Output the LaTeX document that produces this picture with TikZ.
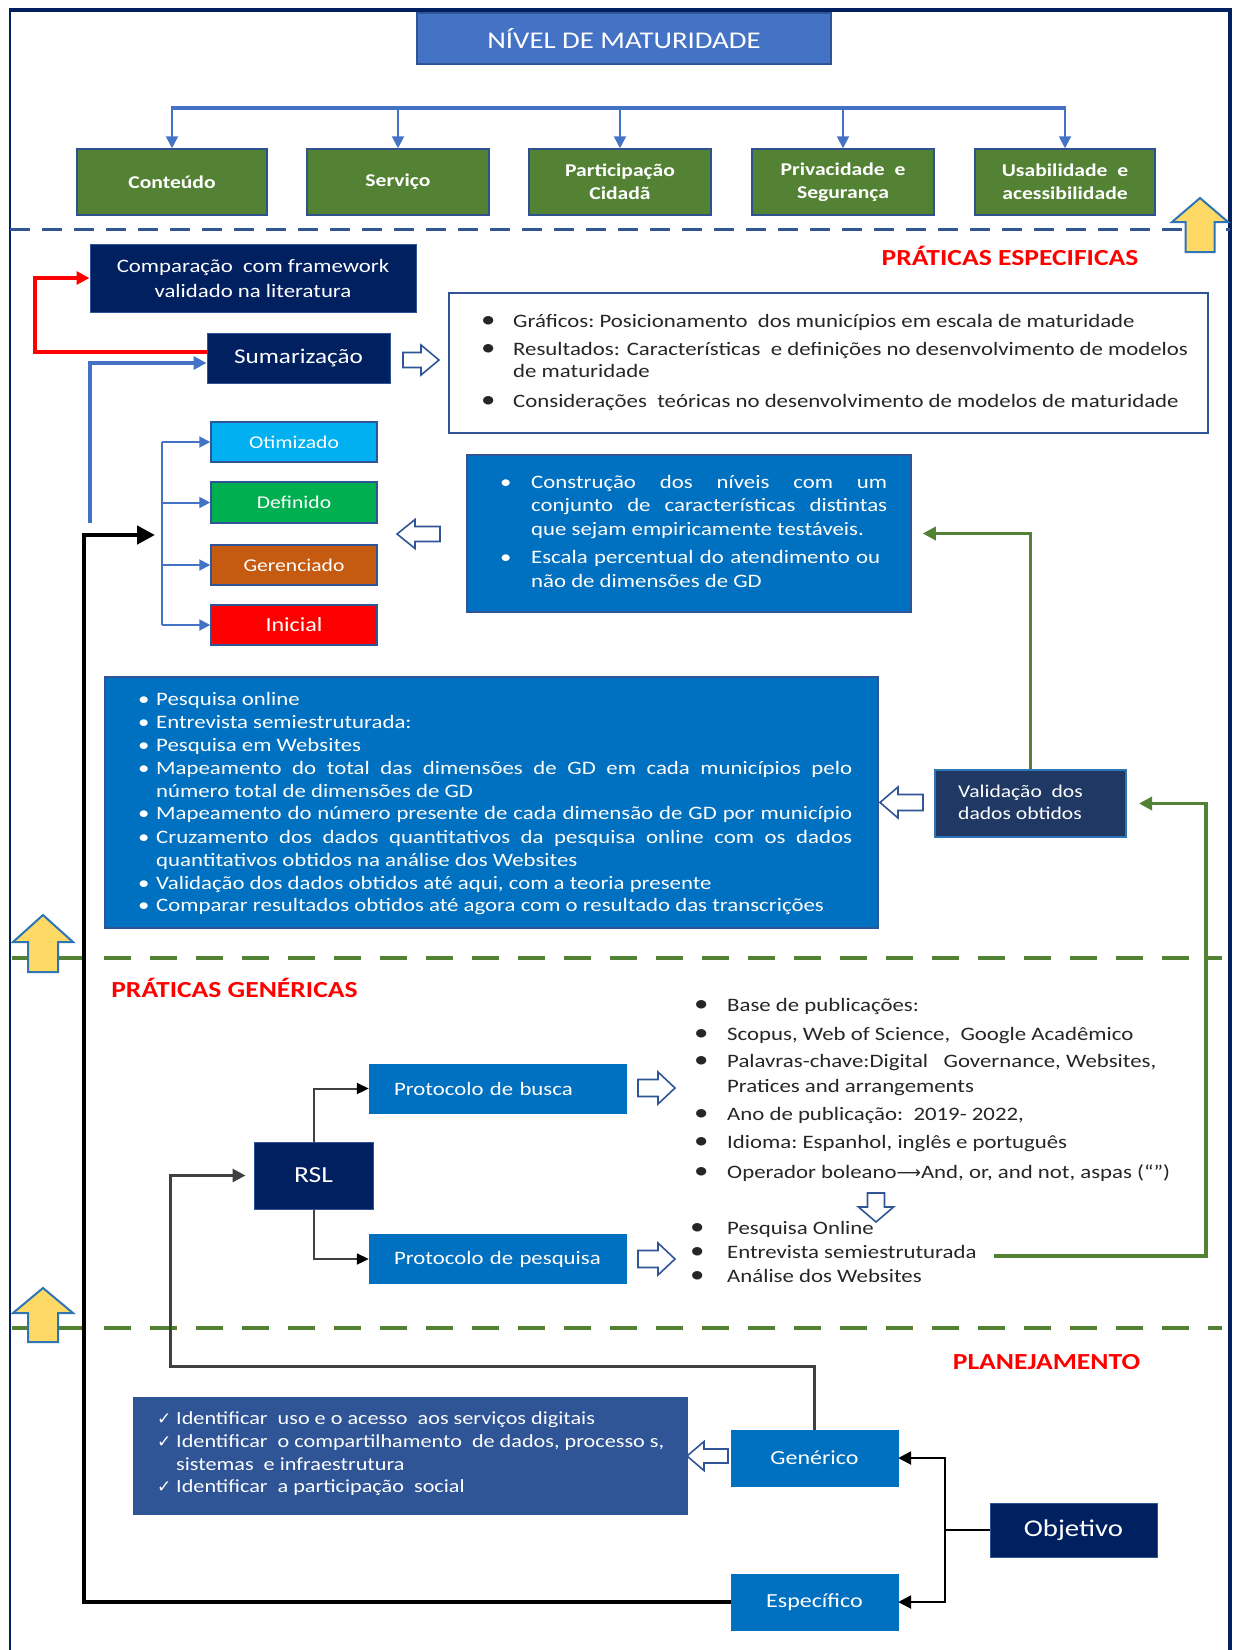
\documentclass[tikz,border=0pt]{standalone}
\usepackage{fontspec}
\setmainfont{Carlito}[FakeStretch=1.2]
\newfontfamily\djv{DejaVu Sans}
\usetikzlibrary{arrows.meta,calc}
\definecolor{navy}{HTML}{002060}
\definecolor{titlefill}{HTML}{4472C4}
\definecolor{edgeblue}{HTML}{2F5597}
\definecolor{grfill}{HTML}{548235}
\definecolor{grborder}{HTML}{2F528F}
\definecolor{medblue}{HTML}{0070C0}
\definecolor{valfill}{HTML}{1F3864}
\definecolor{valdraw}{HTML}{2E75B6}
\definecolor{chkfill}{HTML}{2F5597}
\definecolor{lineblue}{HTML}{4472C4}
\definecolor{lgreen}{HTML}{548235}
\definecolor{yel}{HTML}{FFD966}
\definecolor{txtgray}{HTML}{262626}
\definecolor{optc}{HTML}{00B0F0}
\definecolor{defc}{HTML}{00B050}
\definecolor{gerc}{HTML}{C55A11}
\definecolor{inic}{HTML}{FF0000}
\definecolor{hred}{HTML}{FF0000}
\definecolor{conngray}{HTML}{404040}
\newcommand{\fsz}[2]{\fontsize{#1}{#2}\selectfont}
\newcommand{\bul}[2]{\makebox[#1][l]{\textbullet}#2}
\newcommand{\bigbul}[2]{\makebox[#1][l]{\fsz{24}{24}\textbullet}#2}
\newcommand{\chk}[1]{\makebox[19pt][l]{\djv\fsz{17}{17}✓}#1}
\newcommand{\blockarrow}[8]{%
  \begin{scope}[shift={(#1,#2)},rotate=#3]
    \draw[#8] ({-#4/2},{-#6/2}) -- ({#4/2-#7},{-#6/2}) -- ({#4/2-#7},{-#5/2})
      -- ({#4/2},0) -- ({#4/2-#7},{#5/2}) -- ({#4/2-#7},{#6/2}) -- ({-#4/2},{#6/2}) -- cycle;
  \end{scope}}
\tikzset{
  every node/.style={inner sep=0pt},
  titlebox/.style={fill=titlefill, draw=edgeblue, line width=1.5pt, text=white, font=\fsz{24}{28}},
  greenbox/.style={fill=grfill, draw=grborder, line width=1.5pt, text=white, align=center,
    minimum height=66pt, font=\fsz{18}{23}\bfseries},
  navybox/.style={fill=navy, draw=edgeblue, line width=1pt, text=white, align=center},
  lvl/.style={draw=edgeblue, line width=1.5pt, text=white, minimum width=166pt, font=\fsz{18}{22}},
  medbox/.style={fill=medblue, draw=edgeblue, line width=1.5pt},
  protbox/.style={fill=medblue, draw=medblue, minimum width=257pt, minimum height=49pt,
    text width=207pt, inner xsep=25pt, align=left, text=white, font=\fsz{19}{23}},
  lowbox/.style={fill=medblue, draw=medblue, minimum width=167pt, minimum height=56pt,
    text=white, font=\fsz{20}{24}},
  heading/.style={text=hred, font=\fsz{23}{27}\bfseries},
  tl/.style={inner sep=0pt, anchor=west, text height=13pt, text depth=4pt, font=\fsz{19}{23}},
  hollow/.style={fill=white, draw=edgeblue, line width=1.6pt},
  yarrow/.style={fill=yel, draw=valdraw, line width=2pt},
  tip/.style={-{Triangle[length=#1,width=#1]}},
}
\begin{document}
\begin{tikzpicture}[x=1pt,y=-1pt]
\useasboundingbox (0,0) rectangle (1235,1650);
\fill[white] (0,0) rectangle (1235,1650);

% frame
\draw[navy, line width=2.5pt] (10,1650) -- (10,10);
\draw[navy, line width=3.5pt] (9,10) -- (1230,10);
\draw[navy, line width=4.5pt] (1230,8) -- (1230,1650);

% separators
\draw[edgeblue, line width=3pt, dash pattern=on 20pt off 12pt] (10,229) -- (1230,229);
\draw[lgreen, line width=4pt, dash pattern=on 27pt off 19pt] (12,958) -- (1222,958);
\draw[lgreen, line width=4pt, dash pattern=on 27pt off 19pt] (12,1328) -- (1222,1328);

% ---------------- top
\node[titlebox, minimum width=414pt, minimum height=51pt] (title) at (624,38.5) {NÍVEL DE MATURIDADE};
\node[greenbox, minimum width=190pt] (cont) at (172,182) {Conteúdo};
\node[greenbox, minimum width=182pt] (serv) at (398,182) {Serviço};
\node[greenbox, minimum width=182pt] (part) at (620,182) {Participação\\Cidadã};
\node[greenbox, minimum width=182pt] (priv) at (843,182) {Privacidade\ \ e\\Segurança};
\node[greenbox, minimum width=180pt] (usab) at (1065,182) {Usabilidade\ \ e\\acessibilidade};
\coordinate (bar) at (0,108);
\draw[lineblue, line width=3.5pt] ([xshift=-1pt]cont.north |- bar) -- ([xshift=1pt]usab.north |- bar);
\foreach \n in {cont,serv,part,priv,usab}
  \draw[lineblue, line width=2pt, tip=12pt] (\n.north |- bar) -- (\n.north);

% ---------------- práticas específicas
\node[heading] (hesp) at (1010,256) {PRÁTICAS ESPECIFICAS};
\node[navybox, minimum width=326pt, minimum height=68pt, font=\fsz{19}{25}] (comp) at (253,278)
  {Comparação\ \ com framework\\validado na literatura};
\node[navybox, minimum width=183pt, minimum height=50pt, font=\fsz{21}{25}] (sum) at (298.5,358) {Sumarização};

\node[draw=edgeblue, line width=1.5pt, fill=white, minimum width=759pt, minimum height=140pt] (wbox) at (828.5,363) {};
\node[tl, text=txtgray] (w1) at (481,323) {\bigbul{32pt}{Gráficos:\ Posicionamento\ \ dos municípios\ em escala\ de maturidade}};
\node[tl, text=txtgray] (w2) at (481,351) {\bigbul{32pt}{Resultados: Características\ \ e definições\ no desenvolvimento\ de modelos}};
\node[tl, text=txtgray] (w3) at (513,373) {de maturidade};
\node[tl, text=txtgray] (w4) at (481,403) {\bigbul{32pt}{Considerações\ \ teóricas\ no desenvolvimento\ de modelos de maturidade}};

\node[lvl, fill=optc, minimum height=40pt] (opt) at (294,442) {Otimizado};
\node[lvl, fill=defc, minimum height=41pt] (def) at (294,502.5) {Definido};
\node[lvl, fill=gerc, minimum height=40pt] (ger) at (294,565) {Gerenciado};
\node[lvl, fill=inic, minimum height=40pt, font=\fsz{20}{24}] (ini) at (294,625) {Inicial};

\node[medbox, minimum width=444pt, minimum height=157pt] (constr) at (689,533.5) {};
\node[tl, text=white] (c1) at (500,484) {\bul{31pt}{\makebox[356pt][s]{Construção dos níveis com um}}};
\node[tl, text=white] (c2) at (531,507) {\makebox[356pt][s]{conjunto de características distintas}};
\node[tl, text=white] (c3) at (531,531) {que sejam empiricamente testáveis.};
\node[tl, text=white] (c4) at (500,559) {\bul{31pt}{\makebox[349pt][s]{Escala percentual do atendimento ou}}};
\node[tl, text=white] (c5) at (531,583) {não de dimensões\ de GD};

\node[medbox, minimum width=773pt, minimum height=251pt] (bigbox) at (491.5,802.5) {};
\node[tl, text=white] (b1) at (138,701) {\bul{18pt}{Pesquisa\ online}};
\node[tl, text=white] (b2) at (138,724) {\bul{18pt}{Entrevista\ semiestruturada:}};
\node[tl, text=white] (b3) at (138,747) {\bul{18pt}{Pesquisa\ em Websites}};
\node[tl, text=white] (b4) at (138,770) {\bul{18pt}{\makebox[696pt][s]{Mapeamento do total das dimensões de GD em cada municípios pelo}}};
\node[tl, text=white] (b5) at (156,793) {número total de dimensões de GD};
\node[tl, text=white] (b6) at (138,815) {\bul{18pt}{\makebox[696pt][s]{Mapeamento do número presente de cada dimensão de GD por município}}};
\node[tl, text=white] (b7) at (138,839) {\bul{18pt}{\makebox[696pt][s]{Cruzamento dos dados quantitativos da pesquisa online com os dados}}};
\node[tl, text=white] (b8) at (156,862) {quantitativos obtidos na análise dos Websites};
\node[tl, text=white] (b9) at (138,885) {\bul{18pt}{Validação\ dos dados obtidos até aqui, com a teoria presente}};
\node[tl, text=white] (b10) at (138,907) {\bul{18pt}{Comparar\ resultados\ obtidos até agora com o resultado\ das transcrições}};

\node[fill=valfill, draw=valdraw, line width=2pt, minimum width=191pt, minimum height=67pt] (val) at (1030.5,803.5) {};
\node[tl, text=white, font=\fsz{18}{22}] (v1) at (958,793) {Validação\ \ dos};
\node[tl, text=white, font=\fsz{18}{22}] (v2) at (958,815) {dados obtidos};

% ---------------- práticas genéricas
\node[heading] (hgen) at (234.5,988) {PRÁTICAS GENÉRICAS};
\node[protbox] (busca) at (497.5,1088.5) {Protocolo de busca};
\node[protbox] (pesq) at (497.5,1259) {Protocolo de pesquisa};
\node[navybox, minimum width=119pt, minimum height=67pt, font=\fsz{23}{27}] (rsl) at (313.5,1175.5) {RSL};

\node[tl, text=txtgray] (r1) at (694,1007) {\bigbul{33pt}{Base de publicações:}};
\node[tl, text=txtgray] (r2) at (694,1036) {\bigbul{33pt}{Scopus, Web of Science,\ \ Google\ Acadêmico}};
\node[tl, text=txtgray] (r3) at (694,1063) {\bigbul{33pt}{Palavras-chave:Digital\ \ \ Governance, Websites,}};
\node[tl, text=txtgray] (r4) at (727,1088) {Pratices\ and\ arrangements};
\node[tl, text=txtgray] (r5) at (694,1116) {\bigbul{33pt}{Ano de publicação:\ \ 2019- 2022,}};
\node[tl, text=txtgray] (r6) at (694,1144) {\bigbul{33pt}{Idioma:\ Espanhol,\ inglês e português}};
\node[tl, text=txtgray] (r7) at (694,1174) {\bigbul{33pt}{Operador\ boleano{\djv\fsz{17}{17}⟶}And, or, and not, aspas (“”)}};
\node[tl, text=txtgray] (r8) at (690,1230) {\bigbul{37pt}{Pesquisa\ Online}};
\node[tl, text=txtgray] (r9) at (690,1254) {\bigbul{37pt}{Entrevista\ semiestruturada}};
\node[tl, text=txtgray] (r10) at (690,1278) {\bigbul{37pt}{Análise dos Websites}};

% ---------------- planejamento
\node[heading] (hplan) at (1046.5,1362) {PLANEJAMENTO};
\node[fill=chkfill, draw=chkfill, minimum width=554pt, minimum height=117pt] (chkbox) at (410,1455.5) {};
\node[tl, text=white, font=\fsz{18.5}{22}] (k1) at (157,1420) {\chk{Identificar\ \ uso e o acesso\ \ aos serviços\ digitais}};
\node[tl, text=white, font=\fsz{18.5}{22}] (k2) at (157,1443) {\chk{Identificar\ \ o compartilhamento\ \ de dados, processo s,}};
\node[tl, text=white, font=\fsz{18.5}{22}] (k3) at (176,1466) {sistemas\ \ e infraestrutura};
\node[tl, text=white, font=\fsz{18.5}{22}] (k4) at (157,1488) {\chk{Identificar\ \ a participação\ \ social}};
\node[lowbox] (gen) at (814.5,1458) {Genérico};
\node[lowbox] (spec) at (814.5,1602) {Específico};
\node[navybox, minimum width=167pt, minimum height=54pt, font=\fsz{24}{28}] (obj) at (1073.5,1530) {Objetivo};

% ---------------- connectors
\draw[hred, line width=3.5pt, tip=13pt] ($(sum.west)+(0,-6)$) -| (35,278) -- (comp.west);
\coordinate (bstart) at (90,523);
\draw[lineblue, line width=4pt, tip=13pt] (bstart) |- ($(sum.west)+(0,5)$);
\coordinate (spine) at (162,0);
\draw[lineblue, line width=2pt] (opt.west -| spine) -- (ini.west -| spine);
\foreach \n in {opt,def,ger,ini}
  \draw[lineblue, line width=2pt, tip=11pt] (\n.west -| spine) -- (\n.west);
\coordinate (blk) at (84,535);
\draw[black, line width=4.5pt, tip=18pt] (spec.west) -| (blk) -- (155,535);

\draw[lgreen, line width=3.5pt, tip=13pt, shorten >=11pt] (val.north) |- (constr.east);
\coordinate (gstart) at (994,1256);
\coordinate (gright) at (1206,0);
\draw[lgreen, line width=3.5pt, tip=13pt, shorten >=12pt] (gstart) -| (gright |- val.east) -- (val.east);

\draw[conngray, line width=2pt, -{Triangle[length=12pt,width=11pt,color=black]}] (rsl.north) |- (busca.west);
\draw[conngray, line width=2pt, -{Triangle[length=12pt,width=11pt,color=black]}] (rsl.south) |- (pesq.west);
\coordinate (gx) at (170,1366);
\draw[conngray, line width=3pt, tip=13pt, shorten >=8pt] (gen.north) |- (gx) |- (rsl.west);

\coordinate (ojx) at (945,0);
\draw[black, line width=2.5pt] (obj.west) -- (obj.west -| ojx);
\draw[black, line width=2.5pt, tip=13pt] (obj.west -| ojx) |- (gen.east);
\draw[black, line width=2.5pt, tip=13pt] (obj.west -| ojx) |- (spec.east);

% ---------------- block arrows
\blockarrow{421}{360}{0}{36}{30}{15}{18}{hollow}
\blockarrow{418.5}{534}{180}{43}{29}{15}{18}{hollow}
\blockarrow{901.5}{802.5}{180}{43}{31}{16}{18}{hollow}
\blockarrow{656.5}{1088}{0}{37}{32}{17}{17}{hollow}
\blockarrow{656.5}{1259}{0}{37}{32}{17}{17}{hollow}
\blockarrow{876}{1207.5}{-90}{29}{35}{17}{15}{hollow}
\blockarrow{707.5}{1456}{180}{41}{29}{14}{17}{hollow}
\blockarrow{1200}{225}{90}{54}{56}{29}{24}{yarrow}
\blockarrow{43}{943.5}{90}{57}{60}{30}{27}{yarrow}
\blockarrow{43}{1315}{90}{54}{60}{30}{25}{yarrow}
\end{tikzpicture}
\end{document}
